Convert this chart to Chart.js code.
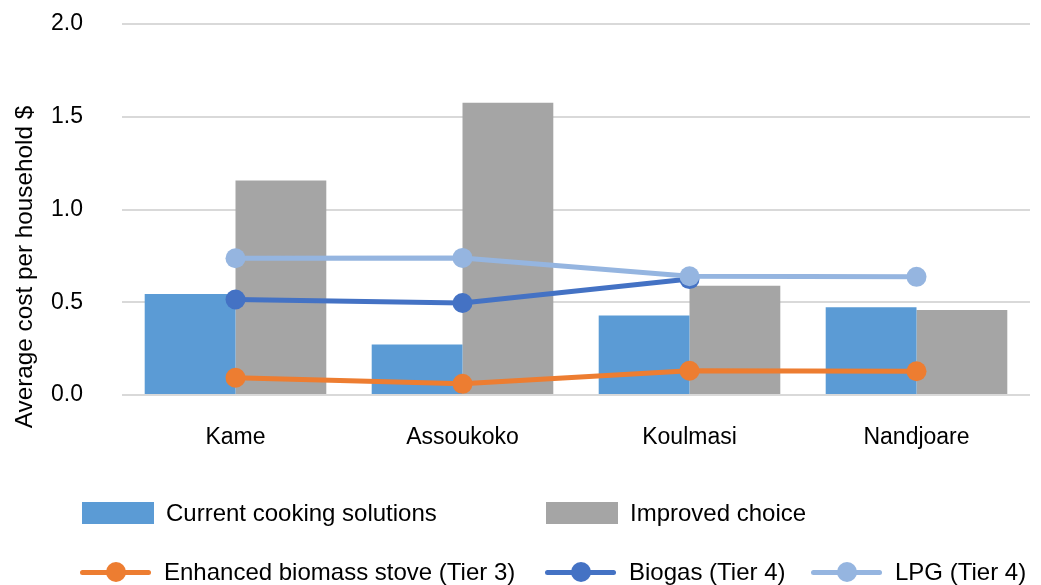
<!DOCTYPE html>
<html>
<head>
<meta charset="utf-8">
<script src="https://cdn.jsdelivr.net/npm/chart.js@4/dist/chart.umd.min.js"></script>
<style>
  html, body { margin: 0; padding: 0; background: #fff; }
  #wrap { position: relative; width: 1041px; height: 585px; font-family: "Liberation Sans", Arial, sans-serif; }
  #c { position: absolute; left: 0; top: 0; }
  .leg { position: absolute; font-size: 24px; color: #000; line-height: 28px; white-space: nowrap; }
  .box { position: absolute; width: 72px; height: 22px; }
  .ln { position: absolute; width: 71px; height: 5px; border-radius: 3px; }
  .dot { position: absolute; width: 20px; height: 20px; border-radius: 50%; }
  #ytitle { position: absolute; left: -176px; top: 252px; width: 400px; height: 30px; line-height: 30px;
            text-align: center; font-size: 24.3px; color: #000; white-space: nowrap; transform: rotate(-90deg); transform-origin: 50% 50%; }
</style>
</head>
<body>
<div id="wrap">
  <canvas id="c" width="1041" height="585"></canvas>
  <div id="ytitle">Average cost per household $</div>
  <div id="legend"></div>
</div>
<script>
const categories = ['Kame', 'Assoukoko', 'Koulmasi', 'Nandjoare'];
const currentCooking = [0.545, 0.272, 0.429, 0.473];
const improvedChoice = [1.157, 1.575, 0.589, 0.458];
const biomassStove = [0.093, 0.060, 0.131, 0.128];
const biogas = [0.515, 0.496, 0.625, null];
const lpg = [0.737, 0.739, 0.640, 0.637];
const yTicks = [0, 0.5, 1.0, 1.5, 2.0];

const COLORS = {
  current: '#5B9BD5',
  improved: '#A5A5A5',
  biomass: '#ED7D31',
  biogas: '#4472C4',
  lpg: '#95B5E0'
};

const FONT = { family: '"Liberation Sans", Arial, sans-serif', size: 23 };

function lineDs(label, data, color, order) {
  return {
    type: 'line', label, data,
    borderColor: color, backgroundColor: color,
    pointBackgroundColor: color, pointBorderColor: color,
    borderWidth: 5, pointRadius: 10, pointHoverRadius: 10,
    pointBorderWidth: 0, tension: 0, spanGaps: false, order
  };
}

new Chart(document.getElementById('c'), {
  type: 'bar',
  data: {
    labels: categories,
    datasets: [
      { label: 'Current cooking solutions', data: currentCooking, backgroundColor: COLORS.current, categoryPercentage: 0.8, barPercentage: 1.0, order: 3 },
      { label: 'Improved choice', data: improvedChoice, backgroundColor: COLORS.improved, categoryPercentage: 0.8, barPercentage: 1.0, order: 4 },
      lineDs('Enhanced biomass stove (Tier 3)', biomassStove, COLORS.biomass, 2),
      lineDs('Biogas (Tier 4)', biogas, COLORS.biogas, 1),
      lineDs('LPG (Tier 4)', lpg, COLORS.lpg, 0)
    ]
  },
  options: {
    responsive: false,
    animation: false,
    layout: { padding: { left: 0, right: 11, top: 24, bottom: 0 } },
    plugins: { legend: { display: false }, tooltip: { enabled: false } },
    scales: {
      x: {
        grid: { display: false, drawTicks: false },
        border: { display: false },
        ticks: { color: '#000', font: FONT, padding: 29, maxRotation: 0 },
        afterFit: (s) => { s.height = 190; }
      },
      y: {
        min: 0, max: 2.0,
        afterBuildTicks: (s) => { s.ticks = yTicks.map(v => ({ value: v })); },
        grid: { color: '#D9D9D9', lineWidth: 2, drawTicks: false },
        border: { display: false },
        ticks: { color: '#000', font: FONT, padding: 39, callback: (v) => Number(v).toFixed(1) },
        title: { display: false },
        afterFit: (s) => { s.width = 122; s.paddingTop = 0; s.paddingBottom = 0; }
      }
    }
  }
});

// HTML legend (Excel-style two rows)
const legendItems = [
  { kind: 'box', color: COLORS.current, text: 'Current cooking solutions', x: 82, y: 513 },
  { kind: 'box', color: COLORS.improved, text: 'Improved choice', x: 546, y: 513 },
  { kind: 'line', color: COLORS.biomass, text: 'Enhanced biomass stove (Tier 3)', x: 80, y: 572 },
  { kind: 'line', color: COLORS.biogas, text: 'Biogas (Tier 4)', x: 545, y: 572 },
  { kind: 'line', color: COLORS.lpg, text: 'LPG (Tier 4)', x: 811, y: 572 }
];
const leg = document.getElementById('legend');
legendItems.forEach(it => {
  if (it.kind === 'box') {
    const b = document.createElement('div');
    b.className = 'box'; b.style.background = it.color;
    b.style.left = it.x + 'px'; b.style.top = (it.y - 11) + 'px';
    leg.appendChild(b);
  } else {
    const l = document.createElement('div');
    l.className = 'ln'; l.style.background = it.color;
    l.style.left = it.x + 'px'; l.style.top = (it.y - 2.5) + 'px';
    leg.appendChild(l);
    const d = document.createElement('div');
    d.className = 'dot'; d.style.background = it.color;
    d.style.left = (it.x + 35.5 - 10) + 'px'; d.style.top = (it.y - 10) + 'px';
    leg.appendChild(d);
  }
  const t = document.createElement('div');
  t.className = 'leg'; t.textContent = it.text;
  t.style.left = (it.x + 84) + 'px'; t.style.top = (it.y - 14) + 'px';
  leg.appendChild(t);
});
</script>
</body>
</html>
